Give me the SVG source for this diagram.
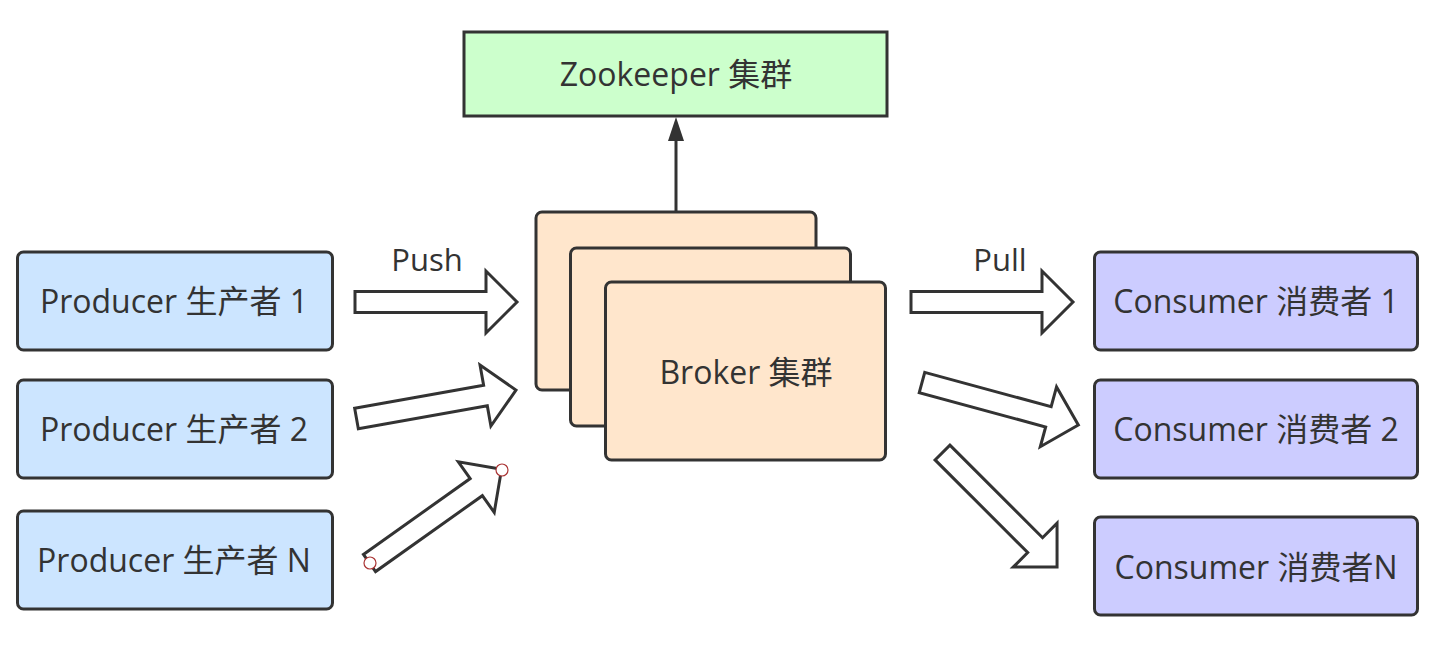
<svg xmlns="http://www.w3.org/2000/svg" width="1436" height="665" viewBox="0 0 1436 665">
<style>
.box{stroke:#333;stroke-width:3}
.prod{fill:#cce5ff}
.cons{fill:#ccccff}
.zk{fill:#ccffcc}
.brk{fill:#ffe6cc}
.t{font-family:"Open Sans","Noto Sans CJK SC",sans-serif;font-size:32px;fill:#333;text-anchor:middle;dominant-baseline:central}
.lbl{font-size:31px}
.blk{fill:#fff;stroke:#333;stroke-width:3;stroke-linejoin:miter}
.h{fill:#fff;stroke:#a33;stroke-width:1.2}
</style>
<defs>
<polygon id="ba" points="0,-10.5 131,-10.5 131,-31 162,0 131,31 131,10.5 0,10.5"/>
</defs>
<rect width="1436" height="665" fill="#fff"/>
<g id="connectors">
<line x1="676" y1="211" x2="676" y2="140" stroke="#333" stroke-width="3"/>
<path d="M676,117 L684,141 L668,141 Z" fill="#333"/>
<use href="#ba" class="blk" transform="translate(355,302)"/>
<use href="#ba" class="blk" transform="translate(356.5,418.5) rotate(-10.1)"/>
<use href="#ba" class="blk" transform="translate(369.5,563) rotate(-35.4)"/>
<use href="#ba" class="blk" transform="translate(911,302)"/>
<use href="#ba" class="blk" transform="translate(922,382.5) rotate(15.2)"/>
<use href="#ba" class="blk" transform="translate(942.5,452.5) rotate(45)"/>
<circle class="h" cx="370" cy="563" r="6"/>
<circle class="h" cx="502" cy="470" r="6"/>
<text class="t lbl" x="427" y="259">Push</text>
<text class="t lbl" x="1000" y="259">Pull</text>
</g>
<g id="zookeeper">
<rect class="box zk" x="464" y="32" width="423" height="84"/>
<text class="t" x="676" y="73">Zookeeper 集群</text>
</g>
<g id="broker">
<rect class="box brk" x="536" y="212" width="280" height="178" rx="6"/>
<rect class="box brk" x="570.5" y="248" width="280" height="178" rx="6"/>
<rect class="box brk" x="605.5" y="282" width="280" height="178" rx="6"/>
<text class="t" x="746" y="371">Broker 集群</text>
</g>
<g id="producer1">
<rect class="box prod" x="17.5" y="252" width="315" height="98" rx="6"/>
<text class="t" x="174" y="300">Producer 生产者 1</text>
</g>
<g id="producer2">
<rect class="box prod" x="17.5" y="380" width="315" height="98" rx="6"/>
<text class="t" x="174" y="428">Producer 生产者 2</text>
</g>
<g id="producerN">
<rect class="box prod" x="17.5" y="511" width="315" height="98" rx="6"/>
<text class="t" x="174" y="559">Producer 生产者 N</text>
</g>
<g id="consumer1">
<rect class="box cons" x="1094.5" y="252" width="323" height="98" rx="6"/>
<text class="t" x="1256" y="300">Consumer 消费者 1</text>
</g>
<g id="consumer2">
<rect class="box cons" x="1094.5" y="380" width="323" height="98" rx="6"/>
<text class="t" x="1256" y="428">Consumer 消费者 2</text>
</g>
<g id="consumerN">
<rect class="box cons" x="1094.5" y="517" width="323" height="98" rx="6"/>
<text class="t" x="1256" y="566">Consumer 消费者N</text>
</g>
</svg>
